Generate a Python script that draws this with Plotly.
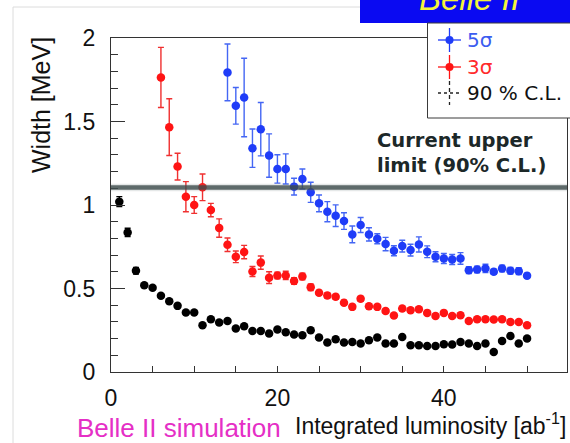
import plotly.graph_objects as go

# Integrated luminosity points [ab^-1]
lumi_5s = list(range(14, 51))
lumi_3s = list(range(6, 51))
lumi_cl = list(range(1, 51))

# Width reach [MeV] for 5 sigma discovery
width_5s = [1.794, 1.594, 1.644, 1.34, 1.454, 1.296, 1.216, 1.216, 1.11, 1.156,
            1.076, 1.01, 0.96, 0.936, 0.904, 0.824, 0.88, 0.824, 0.798, 0.766,
            0.726, 0.754, 0.73, 0.764, 0.72, 0.69, 0.68, 0.674, 0.68, 0.61,
            0.614, 0.62, 0.6, 0.62, 0.606, 0.604, 0.576]
err_5s = [0.17, 0.11, 0.235, 0.115, 0.16, 0.13, 0.085, 0.09, 0.05, 0.06,
          0.06, 0.05, 0.06, 0.065, 0.05, 0.05, 0.045, 0.04, 0.03, 0.04,
          0.03, 0.035, 0.035, 0.045, 0.035, 0.03, 0.03, 0.03, 0.035, 0.02,
          0.02, 0.025, 0.015, 0.02, 0.02, 0.02, 0.015]

# Width reach [MeV] for 3 sigma evidence
width_3s = [1.764, 1.466, 1.23, 1.05, 1.0, 1.106, 0.97, 0.862, 0.762, 0.69,
            0.718, 0.602, 0.655, 0.565, 0.578, 0.578, 0.545, 0.572, 0.507, 0.474,
            0.458, 0.45, 0.415, 0.39, 0.438, 0.394, 0.39, 0.365, 0.338, 0.38,
            0.37, 0.376, 0.354, 0.336, 0.354, 0.336, 0.34, 0.306, 0.316, 0.316,
            0.314, 0.316, 0.3, 0.3, 0.28]
err_3s = [0.18, 0.17, 0.08, 0.09, 0.05, 0.08, 0.04, 0.055, 0.04, 0.035,
          0.04, 0.03, 0.04, 0.035, 0.02, 0.025, 0.02, 0.02, 0.02, 0.015,
          0.015, 0.015, 0.015, 0.015, 0.015, 0.015, 0.012, 0.012, 0.012, 0.012,
          0.012, 0.012, 0.012, 0.012, 0.012, 0.012, 0.012, 0.01, 0.01, 0.01,
          0.01, 0.01, 0.01, 0.01, 0.01]

# 90% C.L. upper limit on the width [MeV]
width_cl = [1.02, 0.836, 0.606, 0.52, 0.504, 0.456, 0.424, 0.396, 0.356, 0.356,
            0.28, 0.316, 0.296, 0.306, 0.26, 0.274, 0.246, 0.246, 0.23, 0.254,
            0.238, 0.224, 0.22, 0.25, 0.206, 0.176, 0.196, 0.176, 0.18, 0.17,
            0.19, 0.206, 0.17, 0.17, 0.21, 0.16, 0.16, 0.156, 0.156, 0.166,
            0.164, 0.18, 0.17, 0.156, 0.17, 0.12, 0.186, 0.216, 0.17, 0.2]
err_cl = [0.03, 0.025, 0.02] + [0.008] * 47

current_limit = 1.105

x_ticks = [0, 20, 40]
y_ticks = [0, 0.5, 1, 1.5, 2]

BLUE = "#1f3cf8"
RED = "#ff1414"
BLACK = "#000000"

W, H = 570, 443
ML, MR, MT, MB = 111, 3, 38, 71


def pxx(x):
    return (x - ML) / (W - ML - MR)


def pxy(y):
    return (H - MB - y) / (H - MT - MB)


fig = go.Figure()


def add_series(x, y, e, color, ecolor):
    fig.add_trace(go.Scatter(
        x=x, y=y, mode="markers",
        marker=dict(color=color, size=8.5, line=dict(width=0)),
        error_y=dict(type="data", array=e, visible=True, color=ecolor,
                     thickness=1.4, width=3),
        showlegend=False, hoverinfo="skip",
    ))


add_series(lumi_cl, width_cl, err_cl, BLACK, BLACK)
add_series(lumi_3s, width_3s, err_3s, RED, "#f03030")
add_series(lumi_5s, width_5s, err_5s, BLUE, "#4466f4")

shapes = []
# current upper limit band
shapes.append(dict(type="rect", xref="x domain", yref="y",
                   x0=0, x1=1, y0=current_limit - 0.022, y1=current_limit + 0.022,
                   fillcolor="rgba(110,125,125,0.18)", line=dict(width=0),
                   layer="above"))
shapes.append(dict(type="line", xref="x domain", yref="y",
                   x0=0, x1=1, y0=current_limit, y1=current_limit,
                   line=dict(color="rgba(60,74,74,0.8)", width=4.5),
                   layer="above"))

# faint slide border
shapes.append(dict(type="line", xref="paper", yref="paper",
                   x0=pxx(13), x1=pxx(13), y0=pxy(7), y1=pxy(445),
                   line=dict(color="#dcdcdc", width=1)))
shapes.append(dict(type="line", xref="paper", yref="paper",
                   x0=pxx(13), x1=pxx(362), y0=pxy(7), y1=pxy(7),
                   line=dict(color="#dcdcdc", width=1)))

# experiment banner
shapes.append(dict(type="rect", xref="paper", yref="paper",
                   x0=pxx(360), x1=pxx(575), y0=pxy(23), y1=pxy(-3),
                   fillcolor="#0a0af2", line=dict(width=0), layer="above"))

# legend box
shapes.append(dict(type="rect", xref="paper", yref="paper",
                   x0=pxx(427.5), x1=pxx(580), y0=pxy(118), y1=pxy(23),
                   fillcolor="white", line=dict(color="#3a3a3a", width=1),
                   layer="above"))

legend_rows = [(40, BLUE, "#3b5cf0", "5σ", "solid"),
               (67, RED, "#ff2a2a", "3σ", "solid"),
               (93, BLACK, "#111111", "90 % C.L.", "dash")]
annotations = []
for yc, col, tcol, label, dash in legend_rows:
    lcol = col if dash == "solid" else "#222222"
    shapes.append(dict(type="line", xref="paper", yref="paper", layer="above",
                       x0=pxx(438), x1=pxx(461), y0=pxy(yc), y1=pxy(yc),
                       line=dict(color=lcol, width=1.3, dash=dash if dash == "solid" else "3px,3px")))
    shapes.append(dict(type="line", xref="paper", yref="paper", layer="above",
                       x0=pxx(449.5), x1=pxx(449.5), y0=pxy(yc - 12), y1=pxy(yc + 12),
                       line=dict(color=lcol, width=1.3, dash=dash if dash == "solid" else "4px,3px")))
    if dash == "solid":
        shapes.append(dict(type="circle", xref="paper", yref="paper", layer="above",
                           x0=pxx(445.5), x1=pxx(453.5), y0=pxy(yc + 4), y1=pxy(yc - 4),
                           fillcolor=col, line=dict(width=0)))
    annotations.append(dict(text=label, xref="paper", yref="paper",
                            x=pxx(465), y=pxy(yc), xanchor="left", yanchor="middle",
                            showarrow=False,
                            font=dict(family="DejaVu Sans", size=20, color=tcol)))

annotations += [
    dict(text="<i>Belle II</i>", xref="paper", yref="paper",
         x=pxx(469), y=pxy(-1), xanchor="center", yanchor="middle", showarrow=False,
         font=dict(family="Liberation Sans", size=33, color="#f4f43a")),
    dict(text="<b>Current upper<br>limit (90% C.L.)</b>", xref="paper", yref="paper",
         x=pxx(375), y=pxy(153), xanchor="left", yanchor="middle", align="left",
         showarrow=False,
         font=dict(family="DejaVu Sans", size=19.5, color="#1c2828")),
    dict(text="Width [MeV]", xref="paper", yref="paper", textangle=-90,
         x=pxx(41), y=pxy(105), xanchor="center", yanchor="middle", showarrow=False,
         font=dict(family="Liberation Sans", size=25, color="#111111")),
    dict(text="Integrated luminosity [ab<sup>-1</sup>]", xref="paper", yref="paper",
         x=pxx(568), y=pxy(424), xanchor="right", yanchor="middle", showarrow=False,
         font=dict(family="Liberation Sans", size=23, color="#111111")),
    dict(text="Belle II simulation", xref="paper", yref="paper",
         x=pxx(75), y=pxy(428), xanchor="left", yanchor="middle", showarrow=False,
         font=dict(family="Liberation Sans", size=26, color="#e52fc6")),
]

axis_common = dict(showgrid=False, zeroline=False, showline=True, mirror=True,
                   linecolor="#333333", linewidth=1.3, ticks="inside",
                   tickcolor="#333333", tickwidth=1,
                   tickfont=dict(family="Liberation Sans", size=23, color="#111111"))

fig.update_layout(
    width=W, height=H,
    margin=dict(l=ML, r=MR, t=MT, b=MB, pad=0),
    paper_bgcolor="white", plot_bgcolor="white",
    showlegend=False,
    xaxis=dict(range=[0, 54.8], tickvals=x_ticks, ticklen=6,
               minor=dict(dtick=5, tick0=0, ticklen=6, ticks="inside",
                          tickcolor="#333333"),
               ticklabelstandoff=5, **axis_common),
    yaxis=dict(range=[0, 2], tickvals=y_ticks, ticktext=["0", "0.5", "1", "1.5", "2"],
               ticklen=14,
               minor=dict(dtick=0.1, tick0=0, ticklen=7, ticks="inside",
                          tickcolor="#333333"),
               ticklabelstandoff=10, **axis_common),
    shapes=shapes,
    annotations=annotations,
)

fig.write_html("out.html")
